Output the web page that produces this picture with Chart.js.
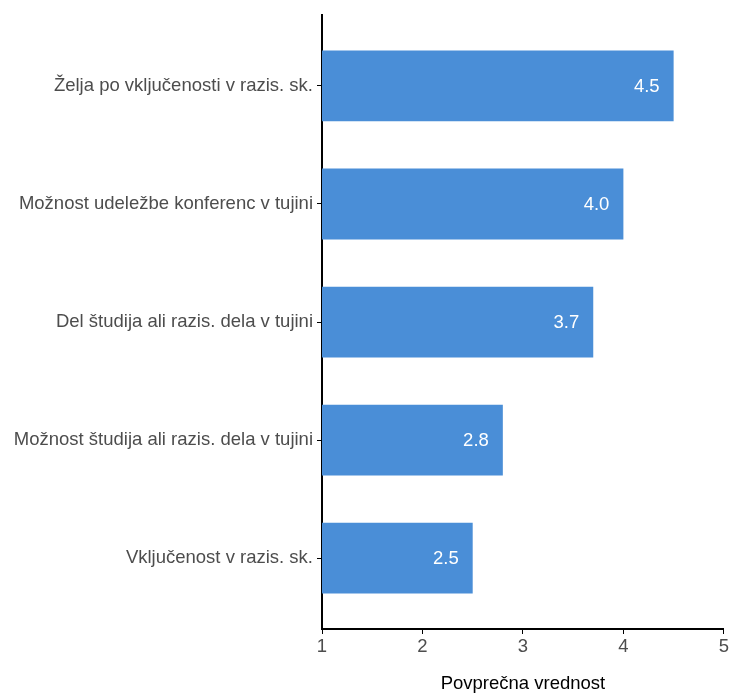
<!DOCTYPE html>
<html>
<head>
<meta charset="utf-8">
<script src="https://cdn.jsdelivr.net/npm/chart.js@4"></script>
<style>
  body { margin: 0; background: #fff; }
  #wrap { width: 731px; height: 695px; }
</style>
</head>
<body>
<div id="wrap"><canvas id="chart" width="731" height="695"></canvas></div>
<script>
const categories = [
  "Želja po vključenosti v razis. sk.",
  "Možnost udeležbe konferenc v tujini",
  "Del študija ali razis. dela v tujini",
  "Možnost študija ali razis. dela v tujini",
  "Vključenost v razis. sk."
];
const values = [4.5, 4.0, 3.7, 2.8, 2.5];
const xTicks = [1, 2, 3, 4, 5];
const xTitle = "Povprečna vrednost";

const barColor = "#4a8ed7";
const fontFamily = "'Liberation Sans', Arial, sans-serif";
const fontSize = 18.5;

// white value labels at the bar ends
const valueLabels = {
  id: "valueLabels",
  afterDatasetsDraw(chart) {
    const ctx = chart.ctx;
    const meta = chart.getDatasetMeta(0);
    ctx.save();
    ctx.fillStyle = "#ffffff";
    ctx.font = fontSize + "px " + fontFamily;
    ctx.textAlign = "right";
    ctx.textBaseline = "middle";
    meta.data.forEach((bar, i) => {
      ctx.fillText(values[i].toFixed(1), bar.x - 14, bar.y + 1);
    });
    ctx.restore();
  }
};

new Chart(document.getElementById("chart").getContext("2d"), {
  type: "bar",
  data: {
    datasets: [{
      data: values.map((v, i) => ({ x: v, y: i })),
      backgroundColor: barColor,
      borderWidth: 0,
      barPercentage: 0.6,
      categoryPercentage: 1
    }]
  },
  plugins: [valueLabels],
  options: {
    indexAxis: "y",
    responsive: false,
    animation: false,
    layout: { padding: { top: 15, right: 7, left: 0, bottom: 0 } },
    plugins: {
      legend: { display: false },
      tooltip: { enabled: false }
    },
    scales: {
      x: {
        type: "linear",
        min: 1,
        max: 5,
        afterBuildTicks: (axis) => { axis.ticks = xTicks.map(v => ({ value: v })); },
        afterFit: (axis) => { axis.height = 66; },
        grid: {
          drawOnChartArea: false,
          drawTicks: true,
          tickLength: 5,
          color: "#000000",
          tickWidth: 1
        },
        border: { display: true, color: "#000000", width: 2 },
        ticks: {
          color: "#4d4d4d",
          padding: 2,
          font: { family: fontFamily, size: fontSize }
        },
        title: {
          display: true,
          text: xTitle,
          color: "#000000",
          padding: { top: 0, bottom: 0 },
          font: { family: fontFamily, size: fontSize }
        }
      },
      y: {
        type: "linear",
        reverse: true,
        offset: false,
        min: -0.6,
        max: 4.6,
        afterBuildTicks: (axis) => { axis.ticks = categories.map((c, i) => ({ value: i })); },
        afterFit: (axis) => { axis.width = 322; },
        grid: {
          offset: false,
          drawOnChartArea: false,
          drawTicks: true,
          tickLength: 5,
          color: "#000000",
          tickWidth: 1
        },
        border: { display: true, color: "#000000", width: 2 },
        ticks: {
          color: "#4d4d4d",
          padding: 4,
          font: { family: fontFamily, size: fontSize },
          callback: (v) => categories[v]
        }
      }
    }
  }
});
</script>
</body>
</html>
